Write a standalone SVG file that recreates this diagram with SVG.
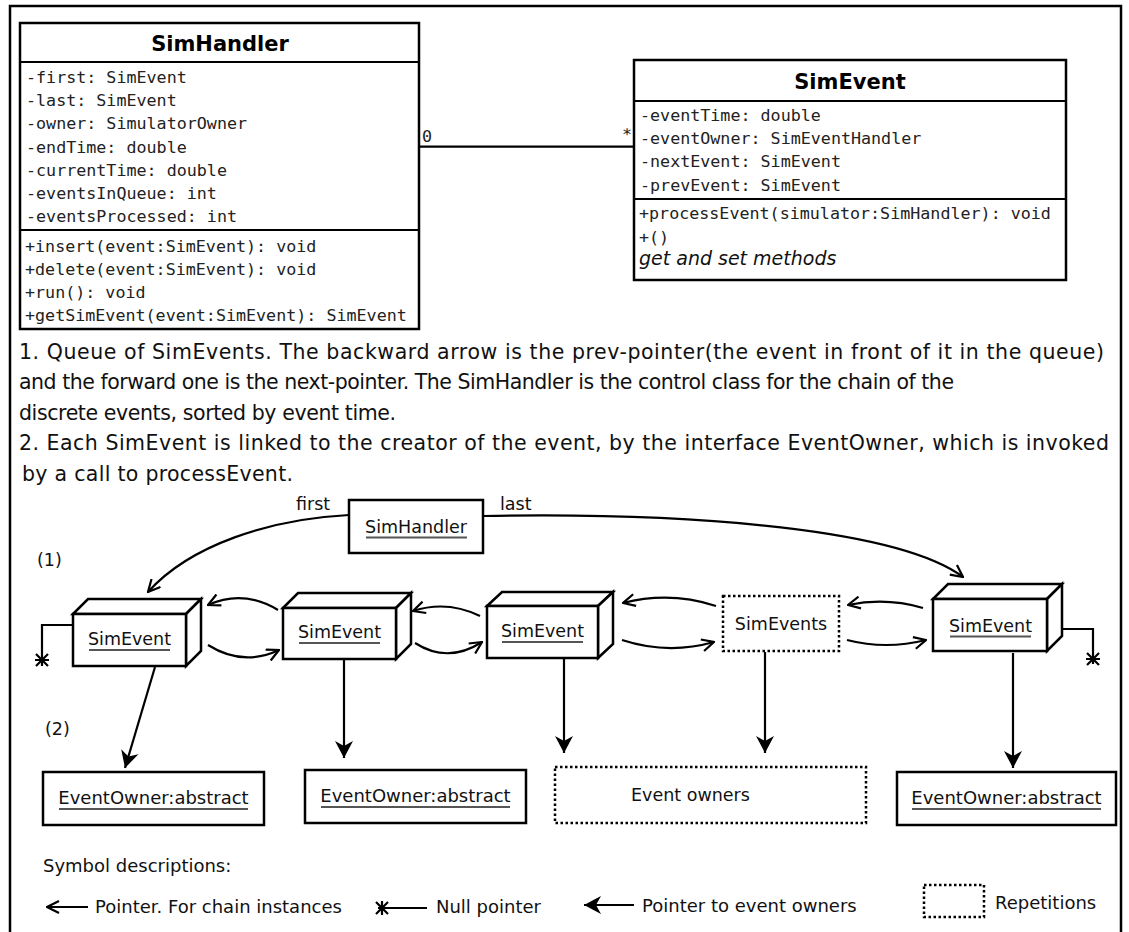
<svg xmlns="http://www.w3.org/2000/svg" width="1129" height="932" viewBox="0 0 1129 932">
<style>
.frame{fill:none;stroke:#000;stroke-width:2.5}
.box{fill:#fff;stroke:#000;stroke-width:2.5}
.dot{fill:#fff;stroke:#000;stroke-width:2.5;stroke-dasharray:2.5 2.5}
.ln{fill:none;stroke:#000;stroke-width:2.2}
.ul{stroke:#555;stroke-width:2}
.mono{font-family:"DejaVu Sans Mono","Liberation Mono",monospace;font-size:16.7px;fill:#222}
.title{font-family:"DejaVu Sans","Liberation Sans",sans-serif;font-size:21px;font-weight:bold;fill:#000}
.para{font-family:"DejaVu Sans","Liberation Sans",sans-serif;font-size:20.5px;fill:#111}
.lbl{font-family:"DejaVu Sans","Liberation Sans",sans-serif;font-size:17.5px;fill:#111}
.leg{font-family:"DejaVu Sans","Liberation Sans",sans-serif;font-size:18px;fill:#111}
.it{font-family:"DejaVu Sans","Liberation Sans",sans-serif;font-size:19px;font-style:italic;fill:#111}
</style>
<defs>
<marker id="open" viewBox="0 0 14 14" refX="13" refY="7" markerWidth="14" markerHeight="14" orient="auto" markerUnits="userSpaceOnUse">
<path d="M1,1 L13,7 L1,13" fill="none" stroke="#000" stroke-width="2.2"/>
</marker>
<marker id="filled" viewBox="0 0 18 20" refX="17" refY="10" markerWidth="18" markerHeight="20" orient="auto" markerUnits="userSpaceOnUse">
<path d="M0,1 L17,10 L0,19 L5,10 z" fill="#000"/>
</marker>
</defs>
<rect x="0" y="0" width="1129" height="932" fill="#fff"/>
<path class="frame" d="M10,945 L10,6 L1121,6 L1121,945"/>

<g id="class-simhandler">
<rect class="box" x="20" y="23" width="399" height="306"/>
<line class="ln" x1="20" y1="62" x2="419" y2="62" stroke-width="2.5"/>
<line class="ln" x1="20" y1="230" x2="419" y2="230" stroke-width="2.5"/>
<text class="title" x="220" y="51" text-anchor="middle">SimHandler</text>
<text class="mono" x="26" y="82.7">-first: SimEvent</text>
<text class="mono" x="26" y="106">-last: SimEvent</text>
<text class="mono" x="26" y="129.3">-owner: SimulatorOwner</text>
<text class="mono" x="26" y="152.7">-endTime: double</text>
<text class="mono" x="26" y="175.7">-currentTime: double</text>
<text class="mono" x="26" y="199">-eventsInQueue: int</text>
<text class="mono" x="26" y="222.3">-eventsProcessed: int</text>
<text class="mono" x="25" y="251.7">+insert(event:SimEvent): void</text>
<text class="mono" x="25" y="275">+delete(event:SimEvent): void</text>
<text class="mono" x="25" y="297.7">+run(): void</text>
<text class="mono" x="25" y="321">+getSimEvent(event:SimEvent): SimEvent</text>
</g>

<g id="class-simevent">
<rect class="box" x="634" y="60" width="432" height="220"/>
<line class="ln" x1="634" y1="101" x2="1066" y2="101" stroke-width="2.5"/>
<line class="ln" x1="634" y1="199" x2="1066" y2="199" stroke-width="2.5"/>
<text class="title" x="850" y="88.5" text-anchor="middle">SimEvent</text>
<text class="mono" x="640" y="120.7">-eventTime: double</text>
<text class="mono" x="640" y="144">-eventOwner: SimEventHandler</text>
<text class="mono" x="640" y="167.3">-nextEvent: SimEvent</text>
<text class="mono" x="640" y="190.7">-prevEvent: SimEvent</text>
<text class="mono" x="639" y="219.3">+processEvent(simulator:SimHandler): void</text>
<text class="mono" x="639" y="242.7">+()</text>
<text class="it" x="639" y="265">get and set methods</text>
</g>

<g id="association">
<line class="ln" x1="419" y1="146.7" x2="634" y2="146.7"/>
<text class="mono" x="422" y="141.7" font-size="15">0</text>
<text class="mono" x="622" y="140" font-size="15">*</text>
</g>

<g id="description">
<text class="para" x="19" y="359" textLength="1085">1. Queue of SimEvents. The backward arrow is the prev-pointer(the event in front of it in the queue)</text>
<text class="para" x="19" y="389" textLength="935">and the forward one is the next-pointer. The SimHandler is the control class for the chain of the</text>
<text class="para" x="19" y="420" textLength="377">discrete events, sorted by event time.</text>
<text class="para" x="19" y="450" textLength="1090">2. Each SimEvent is linked to the creator of the event, by the interface EventOwner, which is invoked</text>
<text class="para" x="22" y="481" textLength="271">by a call to processEvent.</text>
</g>

<g id="connectors">
<path class="ln" d="M349,515 C270,519 190,545 148,592" marker-end="url(#open)"/>
<path class="ln" d="M483,516 C700,512 900,530 963,577" marker-end="url(#open)"/>
<path class="ln" d="M278,610 Q243,589 208,605" marker-end="url(#open)"/>
<path class="ln" d="M208,645 Q243,667 279,650" marker-end="url(#open)"/>
<path class="ln" d="M480,616 Q447,600 413,611" marker-end="url(#open)"/>
<path class="ln" d="M415,643 Q448,664 482,642" marker-end="url(#open)"/>
<path class="ln" d="M716,606 Q670,591 623,603" marker-end="url(#open)"/>
<path class="ln" d="M622,640 Q668,655 714,642" marker-end="url(#open)"/>
<path class="ln" d="M923,608 Q886,597 848,605" marker-end="url(#open)"/>
<path class="ln" d="M847,640 Q886,650 926,640" marker-end="url(#open)"/>
<path class="ln" d="M155,667 L125,768" marker-end="url(#filled)"/>
<path class="ln" d="M344,660 L344,758" marker-end="url(#filled)"/>
<path class="ln" d="M564,658 L564,753" marker-end="url(#filled)"/>
<path class="ln" d="M765,652 L765,753" marker-end="url(#filled)"/>
<path class="ln" d="M1013,653 L1013,768" marker-end="url(#filled)"/>
<path class="ln" d="M73,625 L42,625 L42,666"/>
<path class="ln" d="M36,654 L48,666 M36,666 L48,654 M35,660 L49,660" stroke-width="2.6"/>
<path class="ln" d="M1062,629 L1093,629 L1093,664"/>
<path class="ln" d="M1087,653 L1099,665 M1087,665 L1099,653 M1086,659 L1100,659" stroke-width="2.6"/>
</g>

<g id="inst-simhandler">
<rect class="box" x="349" y="500" width="134" height="53"/>
<text class="lbl" x="416" y="533" text-anchor="middle">SimHandler</text>
<line class="ul" x1="366" y1="537.5" x2="467" y2="537.5"/>
</g>
<text class="lbl" x="296" y="510">first</text>
<text class="lbl" x="500" y="510">last</text>
<text class="lbl" x="37" y="566">(1)</text>
<text class="lbl" x="45" y="735">(2)</text>

<g id="event1">
<path class="box" d="M73,614 L88,599 L201,599 L186,614 Z"/>
<path class="box" d="M186,614 L201,599 L201,651 L186,666 Z"/>
<rect class="box" x="73" y="614" width="113" height="52"/>
<text class="lbl" x="129.5" y="645" text-anchor="middle">SimEvent</text>
<line class="ul" x1="89" y1="650" x2="170" y2="650"/>
</g>
<g id="event2">
<path class="box" d="M283,608 L298,593 L411,593 L396,608 Z"/>
<path class="box" d="M396,608 L411,593 L411,644 L396,659 Z"/>
<rect class="box" x="283" y="608" width="113" height="51"/>
<text class="lbl" x="339.5" y="638" text-anchor="middle">SimEvent</text>
<line class="ul" x1="299" y1="643" x2="380" y2="643"/>
</g>
<g id="event3">
<path class="box" d="M487,606 L502,592 L613,592 L598,606 Z"/>
<path class="box" d="M598,606 L613,592 L613,644 L598,658 Z"/>
<rect class="box" x="487" y="606" width="111" height="52"/>
<text class="lbl" x="542.5" y="637" text-anchor="middle">SimEvent</text>
<line class="ul" x1="502" y1="642" x2="583" y2="642"/>
</g>
<g id="events-rep">
<rect class="dot" x="723" y="596" width="116" height="55"/>
<text class="lbl" x="781" y="630" text-anchor="middle">SimEvents</text>
</g>
<g id="event5">
<path class="box" d="M933,599 L948,584 L1062,584 L1047,599 Z"/>
<path class="box" d="M1047,599 L1062,584 L1062,636 L1047,651 Z"/>
<rect class="box" x="933" y="599" width="114" height="52"/>
<text class="lbl" x="990.5" y="632" text-anchor="middle">SimEvent</text>
<line class="ul" x1="950" y1="636.5" x2="1031" y2="636.5"/>
</g>

<g id="owner1">
<rect class="box" x="43" y="772" width="221" height="53"/>
<text class="leg" x="153.5" y="804" text-anchor="middle">EventOwner:abstract</text>
<line class="ul" x1="59" y1="809" x2="248" y2="809"/>
</g>
<g id="owner2">
<rect class="box" x="305" y="770" width="221" height="53"/>
<text class="leg" x="415.5" y="802" text-anchor="middle">EventOwner:abstract</text>
<line class="ul" x1="321" y1="807" x2="510" y2="807"/>
</g>
<g id="owners-rep">
<rect class="dot" x="555" y="767" width="311" height="56"/>
<text class="lbl" x="690.5" y="801" text-anchor="middle">Event owners</text>
</g>
<g id="owner4">
<rect class="box" x="897" y="772" width="219" height="53"/>
<text class="leg" x="1006.5" y="804" text-anchor="middle">EventOwner:abstract</text>
<line class="ul" x1="912" y1="809" x2="1101" y2="809"/>
</g>

<g id="legend">
<text class="leg" x="43" y="872">Symbol descriptions:</text>
<line class="ln" x1="88" y1="907" x2="47" y2="907" marker-end="url(#open)"/>
<text class="leg" x="95" y="913">Pointer. For chain instances</text>
<line class="ln" x1="427" y1="908" x2="378" y2="908"/>
<path class="ln" d="M376,902 L388,914 M376,914 L388,902 M382,901 L382,915" stroke-width="2.6"/>
<text class="leg" x="436" y="913">Null pointer</text>
<line class="ln" x1="634" y1="905" x2="584" y2="905" marker-end="url(#filled)"/>
<text class="leg" x="642" y="912">Pointer to event owners</text>
<rect class="dot" x="924" y="885" width="60" height="32"/>
<text class="leg" x="995" y="909">Repetitions</text>
</g>
</svg>
